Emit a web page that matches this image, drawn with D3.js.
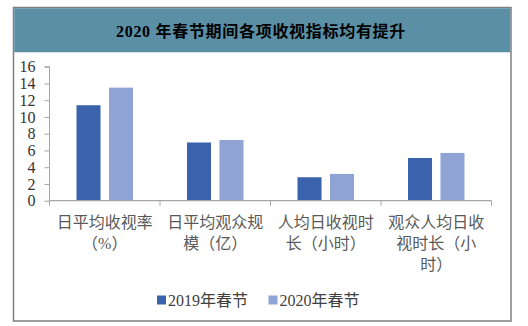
<!DOCTYPE html>
<html>
<head>
<meta charset="utf-8">
<script src="https://cdn.jsdelivr.net/npm/d3@7/dist/d3.min.js"></script>
<style>
html,body{margin:0;padding:0;background:#fff;}
svg{display:block;}
</style>
</head>
<body>
<svg id="chart" width="528" height="326"></svg>
<script>
const title = "2020 年春节期间各项收视指标均有提升";
const categories = ["日平均收视率（%）", "日平均观众规模（亿）", "人均日收视时长（小时）", "观众人均日收视时长（小时）"];
const seriesNames = ["2019年春节", "2020年春节"];
const values2019 = [11.4, 6.95, 2.8, 5.1];
const values2020 = [13.5, 7.25, 3.2, 5.7];
const yTicks = [0, 2, 4, 6, 8, 10, 12, 14, 16];
const colors = ["#3a62ad", "#8fa3d4"];

const svg = d3.select("#chart");
const serif = "'Liberation Serif','Times New Roman','Noto Sans CJK SC',serif";
const cjk = "'Liberation Serif','Noto Sans CJK SC',sans-serif";

// frame
svg.append("rect").attr("x", 13.5).attr("y", 7.5).attr("width", 497.5).attr("height", 313.5)
  .attr("fill", "#fff").attr("stroke", "#7f7f7f").attr("stroke-width", 1.5);
svg.append("rect").attr("x", 14.25).attr("y", 8.25).attr("width", 496).attr("height", 44)
  .attr("fill", "#5b8fa6");
svg.append("text").attr("x", 261).attr("y", 31).attr("text-anchor", "middle")
  .attr("dominant-baseline", "central")
  .attr("font-family", "'Liberation Serif','Noto Sans CJK SC',serif")
  .attr("font-weight", "bold").attr("font-size", 16).attr("letter-spacing", 0.7).attr("fill", "#000")
  .text(title);

const x0 = d3.scaleBand().domain(categories).range([49.5, 491.5]);
const y = d3.scaleLinear().domain([0, 16]).range([200.7, 66.7]);
const x1 = d3.scaleBand().domain(seriesNames).range([27, 83.5]).paddingInner(0.26);

const rows = categories.map((c, i) => ({c, v: [values2019[i], values2020[i]]}));

// bars
const g = svg.append("g");
rows.forEach(r => {
  r.v.forEach((v, j) => {
    g.append("rect")
      .attr("x", x0(r.c) + x1(seriesNames[j]))
      .attr("y", y(v))
      .attr("width", x1.bandwidth())
      .attr("height", y(0) - y(v))
      .attr("fill", colors[j]);
  });
});

// y axis
const yAxis = d3.axisLeft(y).tickValues(yTicks).tickSize(5).tickPadding(9);
const ya = svg.append("g").attr("transform", "translate(49.5,0)").call(yAxis);
ya.select(".domain").attr("stroke", "#a6a6a6").attr("d", "M-5," + y(16) + "H0V" + y(0));
ya.selectAll(".tick line").attr("stroke", "#a6a6a6");
ya.selectAll(".tick text").attr("font-family", serif).attr("font-size", 16).attr("fill", "#333");

// x axis line and ticks
const xa = svg.append("g");
xa.append("line").attr("x1", 49.5).attr("x2", 491.5).attr("y1", y(0)).attr("y2", y(0))
  .attr("stroke", "#a6a6a6").attr("stroke-width", 1.2);
[...categories.map(c => x0(c)), x0.range()[1]].forEach(xx => {
  xa.append("line").attr("x1", xx).attr("x2", xx).attr("y1", y(0)).attr("y2", y(0) + 5)
    .attr("stroke", "#a6a6a6");
});

// wrap with kinsoku
function wrap(s, n) {
  const chars = Array.from(s);
  const lines = [];
  let i = 0;
  while (i < chars.length) {
    let end = Math.min(i + n, chars.length);
    if (end < chars.length && "）)".includes(chars[end])) end -= 1;
    lines.push(chars.slice(i, end).join(""));
    i = end;
  }
  return lines;
}
categories.forEach(c => {
  const lines = wrap(c, 6);
  const t = svg.append("text").attr("text-anchor", "middle")
    .attr("font-family", cjk).attr("font-size", 16).attr("fill", "#595959");
  lines.forEach((l, k) => {
    t.append("tspan").attr("x", x0(c) + x0.bandwidth() / 2).attr("y", 228 + k * 21).text(l);
  });
});

// legend
const legX = [157, 268.5];
seriesNames.forEach((s, j) => {
  svg.append("rect").attr("x", legX[j]).attr("y", 295.5).attr("width", 9).attr("height", 9)
    .attr("fill", colors[j]);
  svg.append("text").attr("x", legX[j] + 11).attr("y", 300).attr("dominant-baseline", "central")
    .attr("font-family", cjk).attr("font-size", 16).attr("fill", "#404040").text(s);
});
</script>
</body>
</html>
